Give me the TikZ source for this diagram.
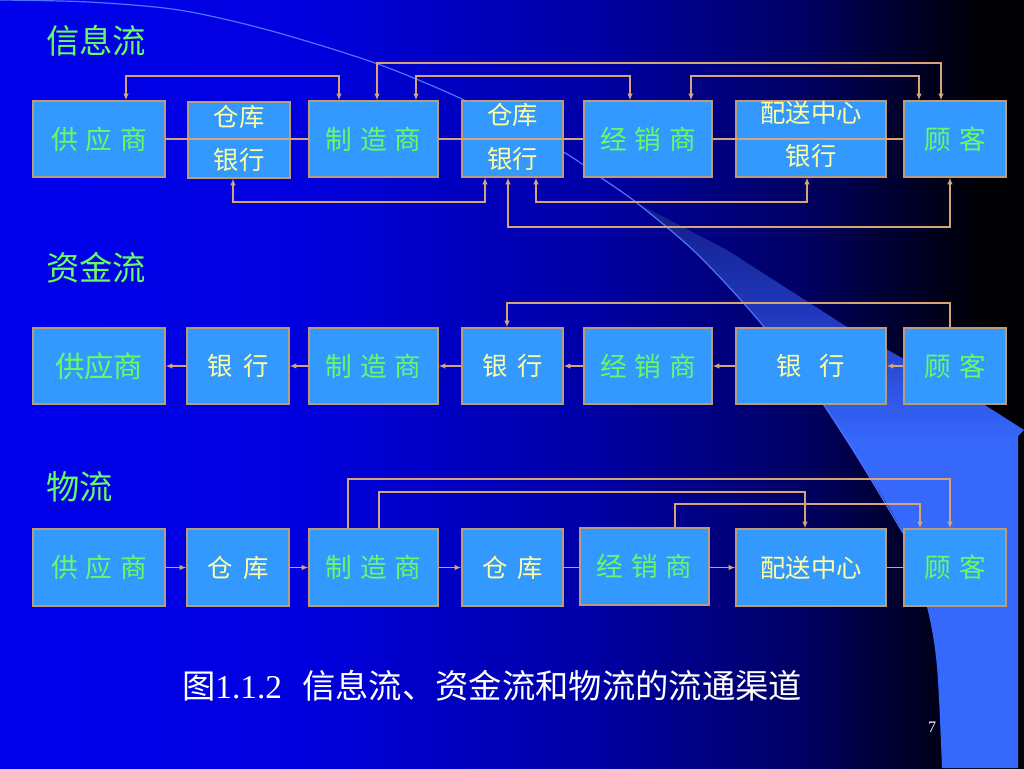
\documentclass[tikz,border=0pt]{standalone}
\usepackage{fontspec}
\setmainfont{Noto Sans CJK SC}
\newfontfamily\tms{Liberation Serif}
\usetikzlibrary{arrows.meta}
\definecolor{boxfill}{RGB}{51,153,255}
\definecolor{boxline}{RGB}{190,155,120}
\definecolor{conncol}{RGB}{214,164,118}
\definecolor{grn}{RGB}{102,250,102}
\definecolor{ylw}{RGB}{255,255,165}
\definecolor{swA}{RGB}{18,30,135}
\definecolor{swM}{RGB}{34,60,195}
\definecolor{swB}{RGB}{54,104,252}
\definecolor{swL}{RGB}{80,115,255}
\definecolor{bgA}{RGB}{0,0,238}
\definecolor{bgB}{RGB}{0,0,222}
\definecolor{bgC}{RGB}{0,0,165}
\definecolor{bgD}{RGB}{0,0,100}
\definecolor{bgE}{RGB}{0,0,45}
\definecolor{bgF}{RGB}{0,0,3}
\pgfdeclarehorizontalshading{bgshade}{100bp}{color(0bp)=(bgA); color(25bp)=(bgA); color(40bp)=(bgB); color(54bp)=(bgC); color(64bp)=(bgD); color(69bp)=(bgE); color(73bp)=(bgF); color(100bp)=(bgF)}
\pgfdeclareverticalshading{swoosh}{100bp}{color(0bp)=(swB); color(54bp)=(swB); color(64bp)=(swM); color(75bp)=(swA); color(100bp)=(swA)}
\newcommand\gp{\hspace{0.3em}}
\newcommand\bx[7]{%
  \pgfmathsetmacro\bxw{(#4-#2)*0.75}%
  \pgfmathsetmacro\bxh{(#5-#3)*0.75}%
  \node[box,#6,minimum width=\bxw pt,minimum height=\bxh pt] (#1) at ({(#2+#4)/2},{(#3+#5)/2}) {#7};}
\tikzset{
  box/.style={draw=boxline, fill=boxfill, line width=0.9pt, inner sep=0pt},
  conn/.style={draw=conncol, line width=1pt},
  both/.style={conn, {Latex[length=5pt,width=4pt]}-{Latex[length=5pt,width=4pt]}},
  tip/.style={conn, -{Latex[length=5pt,width=4pt]}},
  gname/.style={text=grn, font=\fontsize{20}{20}\selectfont},
  ybox/.style={text=ylw, font=\fontsize{19}{19}\selectfont},
  yname/.style={text=ylw, font=\fontsize{19}{19}\selectfont, inner sep=0pt},
  ttl/.style={text=grn, font=\fontsize{25}{25}\selectfont, anchor=west, inner sep=0pt},
}
\begin{document}
\begin{tikzpicture}[x=0.75pt,y=-0.75pt]
\useasboundingbox (0,0) rectangle (1024,768);
% background
\shade[shading=bgshade] (0,0) rectangle (1024,768);
\shade[shading=swoosh] plot[smooth] coordinates {(637,203) (693,250) (747,307) (803,375) (853,450) (903,533) (927,607) (937,667) (942,768)} -- (1018,768) -- (1018,436) -- (1024,430) -- (977,400) -- (847,327) -- (727,250) -- cycle;
\draw[swL, line width=0.9pt] plot[smooth] coordinates {(0,0) (89,2) (179,10) (268,30) (375,63) (464,100) (560,150) (600,177) (637,203) (693,250) (747,307) (803,375) (853,450) (903,533)};

% titles
\node[ttl] (t1) at (46,41) {信息流};
\node[ttl] (t2) at (46,268) {资金流};
\node[ttl] (t3) at (46,487) {物流};

% ---- information flow ----
\bx{a1}{33}{101}{165}{177}{gname}{供\gp 应\gp 商}
\bx{a2}{188}{102}{290}{178}{}{}
\node[yname] (a2u) at (239,117) {仓库};
\node[yname] (a2d) at (239,160) {银行};
\bx{a3}{309}{101}{438}{177}{gname}{制\gp 造\gp 商}
\bx{a4}{462}{101}{563}{177}{}{}
\node[yname] (a4u) at (512.5,115) {仓库};
\node[yname] (a4d) at (512.5,159) {银行};
\bx{a5}{584}{101}{712}{177}{gname}{经\gp 销\gp 商}
\bx{a6}{736}{101}{886}{177}{}{}
\node[yname] (a6u) at (811,113) {配送中心};
\node[yname] (a6d) at (811,156) {银行};
\bx{a7}{904}{101}{1006}{177}{gname}{顾\gp 客}

\draw[conn] (a1.east) -- (a3.west);
\draw[conn] (a3.east) -- (a5.west);
\draw[conn] (a5.east) -- (a7.west);

\coordinate (k1) at (126,76);  \coordinate (k2) at (339,76);
\coordinate (k3) at (377,63);  \coordinate (k4) at (941,63);
\coordinate (k5) at (416,76);  \coordinate (k6) at (630,76);
\coordinate (k7) at (691,76);  \coordinate (k8) at (919,76);
\draw[both] (a1.north -| k1) -- (k1) -- (k2) -- (a3.north -| k2);
\draw[both] (a3.north -| k3) -- (k3) -- (k4) -- (a7.north -| k4);
\draw[both] (a3.north -| k5) -- (k5) -- (k6) -- (a5.north -| k6);
\draw[both] (a5.north -| k7) -- (k7) -- (k8) -- (a7.north -| k8);

\coordinate (j1) at (233,202); \coordinate (j2) at (485,202);
\coordinate (j3) at (536,202); \coordinate (j4) at (807,202);
\coordinate (j5) at (508,227); \coordinate (j6) at (950,227);
\draw[both] (a2.south -| j1) -- (j1) -- (j2) -- (a4.south -| j2);
\draw[both] (a4.south -| j3) -- (j3) -- (j4) -- (a6.south -| j4);
\draw[both] (a4.south -| j5) -- (j5) -- (j6) -- (a7.south -| j6);

% ---- capital flow ----
\bx{b1}{33}{328}{165}{404}{text=grn, font=\fontsize{22}{22}\selectfont}{供应商}
\bx{b2}{187}{328}{289}{404}{ybox}{银\hspace{0.4em}行}
\bx{b3}{309}{328}{438}{404}{gname}{制\gp 造\gp 商}
\bx{b4}{462}{328}{563}{404}{ybox}{银\hspace{0.4em}行}
\bx{b5}{584}{328}{712}{404}{gname}{经\gp 销\gp 商}
\bx{b6}{736}{328}{886}{404}{ybox}{银\hspace{0.7em}行}
\bx{b7}{904}{328}{1006}{404}{gname}{顾\gp 客}

\draw[tip] (b2.west) -- (b1.east);
\draw[tip] (b3.west) -- (b2.east);
\draw[tip] (b4.west) -- (b3.east);
\draw[tip] (b5.west) -- (b4.east);
\draw[tip] (b6.west) -- (b5.east);
\draw[tip] (b7.west) -- (b6.east);

\coordinate (n1) at (950,303); \coordinate (n2) at (507,303);
\draw[tip] (b7.north -| n1) -- (n1) -- (n2) -- (b4.north -| n2);

% ---- physical flow ----
\bx{c1}{33}{529}{165}{606}{gname}{供\gp 应\gp 商}
\bx{c2}{187}{529}{289}{606}{ybox}{仓\hspace{0.4em}库}
\bx{c3}{309}{529}{438}{606}{gname}{制\gp 造\gp 商}
\bx{c4}{462}{529}{563}{606}{ybox}{仓\hspace{0.4em}库}
\bx{c5}{580}{528}{709}{605}{gname}{经\gp 销\gp 商}
\bx{c6}{736}{529}{886}{606}{ybox}{配送中心}
\bx{c7}{904}{529}{1006}{606}{gname}{顾\gp 客}

\draw[tip] (c1.east) -- (c2.west);
\draw[tip] (c2.east) -- (c3.west);
\draw[tip] (c3.east) -- (c4.west);
\draw[conn] (c4.east) -- (c5.west |- c4.east);
\draw[tip] (c5.east |- c6.west) -- (c6.west);
\draw[conn] (c6.east) -- (c7.west);

\coordinate (m1) at (348,479); \coordinate (m2) at (950,479);
\coordinate (m3) at (379,492); \coordinate (m4) at (805,492);
\coordinate (m5) at (675,504); \coordinate (m6) at (920,504);
\draw[tip] (c3.north -| m1) -- (m1) -- (m2) -- (c7.north -| m2);
\draw[tip] (c3.north -| m3) -- (m3) -- (m4) -- (c6.north -| m4);
\draw[tip] (c5.north -| m5) -- (m5) -- (m6) -- (c7.north -| m6);

% caption
\node[text=white, font=\fontsize{25}{25}\selectfont] (cap) at (492,686) {图{\tms 1.1.2}\hspace{0.6em}信息流、资金流和物流的流通渠道};
\node[text=white, font=\tms\fontsize{12}{12}\selectfont] (pg) at (932,727) {7};
\end{tikzpicture}
\end{document}
